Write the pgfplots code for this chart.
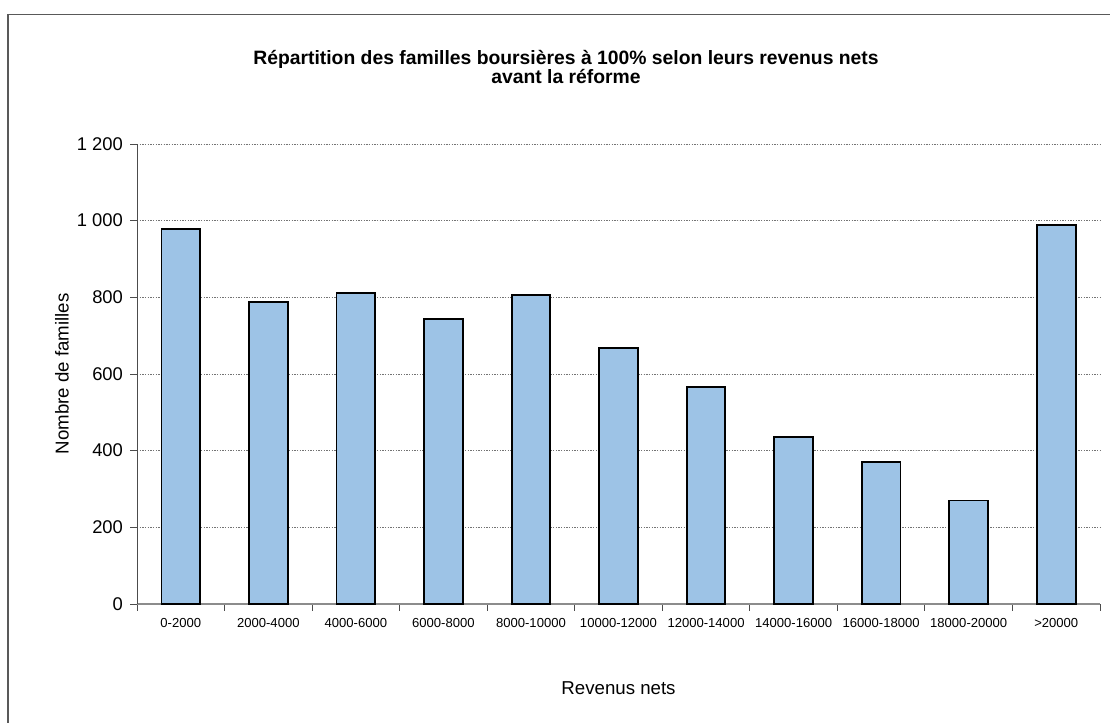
\documentclass[border=0pt]{standalone}
\usepackage{pgfplots}
\pgfplotsset{compat=1.18}
\usepackage{fontspec}
\setmainfont{Liberation Sans}
\definecolor{barfill}{RGB}{157,195,230}
\begin{document}
\begin{tikzpicture}[x=1pt,y=1pt]
\useasboundingbox (-102.75,-89.25) rectangle (729.75,453);
\draw[line width=1.1pt, color=black!65] (-96.75,-89.25) -- (-96.75,442) -- (729.75,442);
\begin{axis}[
  at={(0,0)}, anchor=south west,
  width=722.25pt, height=345pt, scale only axis,
  xmin=-0.5, xmax=10.5, ymin=0, ymax=1200,
  axis x line*=bottom, axis y line*=left,
  x axis line style={-, black!45, line width=1.4pt},
  y axis line style={-, black!70, line width=0.7pt},
  xtick={-0.5,0.5,...,10.5},
  x tick label as interval,
  xticklabels={0-2000,2000-4000,4000-6000,6000-8000,8000-10000,10000-12000,12000-14000,14000-16000,16000-18000,18000-20000,>20000},
  xticklabel style={font=\fontsize{9.8}{12}\selectfont, yshift=-2pt},
  ytick={0,200,...,1200},
  /pgf/number format/assume math mode=true,
  /pgf/number format/1000 sep={\ },
  yticklabel style={font=\fontsize{13.8}{16}\selectfont, xshift=-2pt},
  tick align=outside,
  major tick length=5pt,
  tick style={black!70, line width=0.7pt},
  ymajorgrids,
  major grid style={black!55, dash pattern=on 1pt off 1pt, line width=0.7pt},
  xlabel={Revenus nets},
  xlabel style={at={(axis description cs:0.5,-0.1826)}, anchor=center, font=\fontsize{14}{17}\selectfont},
  ylabel={Nombre de familles},
  ylabel style={at={(axis description cs:-0.0779,0.5)}, anchor=center, font=\fontsize{14}{17}\selectfont},
  title={Répartition des familles boursières à 100\% selon leurs revenus nets\\avant la réforme},
  title style={at={(axis description cs:0.4455,1.150)}, anchor=center, align=center, font=\bfseries\fontsize{14.5}{13.5}\selectfont},
  clip=false,
]
\addplot[ybar, bar width=29pt, fill=barfill, draw=black, line width=1.4pt] coordinates {
(0,978) (1,788) (2,812) (3,743) (4,807) (5,668) (6,565) (7,435) (8,370) (9,270) (10,989)
};
\end{axis}
\end{tikzpicture}
\end{document}
